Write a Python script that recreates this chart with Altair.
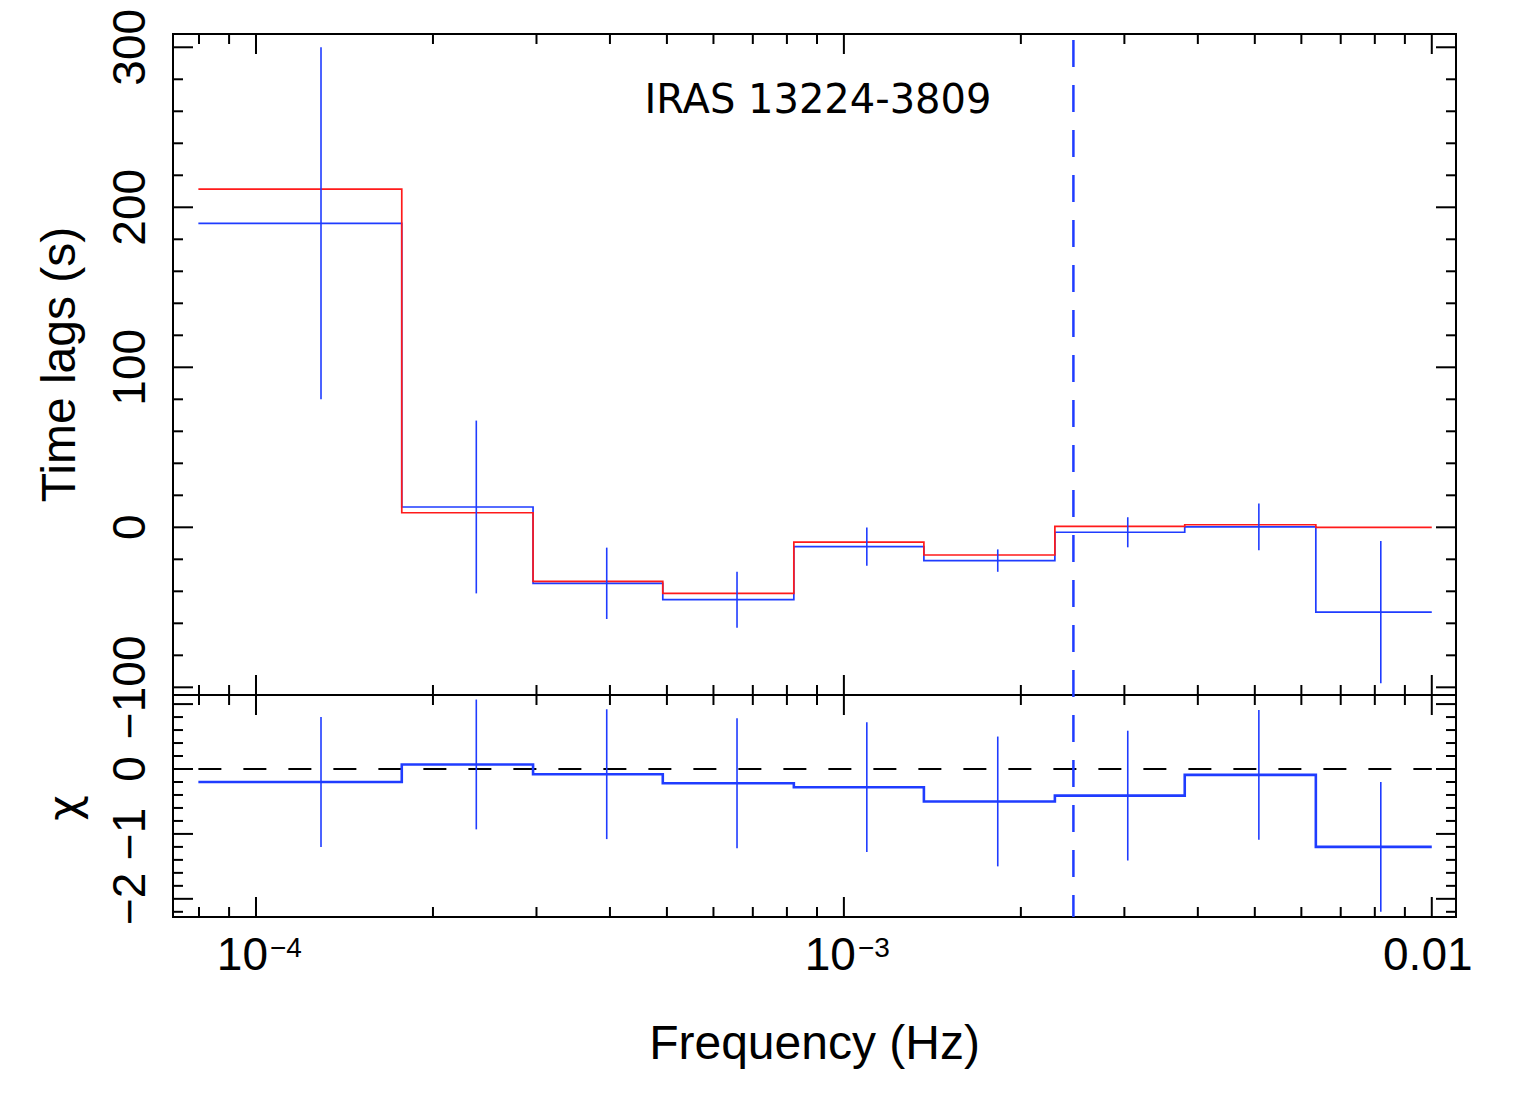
import altair as alt
import pandas as pd

# ---------------- data ----------------
bin_edges = [7.98e-5, 1.77e-4, 2.96e-4, 4.92e-4, 8.22e-4, 1.368e-3, 2.285e-3, 3.80e-3, 6.35e-3, 1.0e-2]
bin_centres = [1.29e-4, 2.37e-4, 3.95e-4, 6.58e-4, 1.094e-3, 1.827e-3, 3.04e-3, 5.08e-3, 8.19e-3]
lag_obs = [190.0, 12.7, -35.0, -45.2, -12.1, -20.8, -3.1, 0.3, -53.0]
lag_err = [110.0, 54.0, 22.3, 17.5, 12.0, 7.0, 9.4, 14.6, 44.5]
lag_model = [211.4, 9.1, -33.8, -41.3, -9.2, -17.3, 0.6, 1.6, 0.0]
chi_res = [-0.20, 0.07, -0.08, -0.22, -0.28, -0.50, -0.41, -0.09, -1.20]
chi_err = [1.0, 1.0, 1.0, 1.0, 1.0, 1.0, 1.0, 1.0, 1.0]
cut_freq = [2.457e-3]

title_text = "IRAS 13224-3809"
x_title = "Frequency (Hz)"
y_title_top = "Time lags (s)"
y_title_bot = "χ"

# tick positions / labels
x_major = [1e-4, 1e-3, 1e-2]
x_minor = [8e-5, 9e-5, 2e-4, 3e-4, 4e-4, 5e-4, 6e-4, 7e-4, 8e-4, 9e-4,
           2e-3, 3e-3, 4e-3, 5e-3, 6e-3, 7e-3, 8e-3, 9e-3]
pow_ticks = [1e-4, 1e-3]
pow_base = ["10", "10"]
pow_exp = ["−4", "−3"]
plain_ticks = [1e-2]
plain_text = ["0.01"]

top_major = [-100, 0, 100, 200, 300]
top_minor = [-80, -60, -40, -20, 20, 40, 60, 80, 120, 140, 160, 180,
             220, 240, 260, 280]
top_labels = ["−100", "0", "100", "200", "300"]
bot_major = [-2, -1, 0, 1]
bot_minor = [-2.2, -1.8, -1.6, -1.4, -1.2, -0.8, -0.6, -0.4, -0.2,
             0.2, 0.4, 0.6, 0.8]
bot_label_vals = [-2, -1, 0]
bot_labels = ["−2", "−1", "0"]

# ---------------- layout / style ----------------
W, H1, H = 1283, 661, 883
BLUE = "#1f3cff"
RED = "#ff1a1a"
FONT = "Liberation Sans"
MAJ, MIN = 20, 10

xscale = alt.Scale(type="log", domain=[7.225e-5, 1.0995e-2], nice=False)
ytop = alt.Scale(domain=[-104.8, 308.3], range=[H1, 0], nice=False, zero=False)
ybot = alt.Scale(domain=[-2.28, 1.14], range=[H, H1], nice=False, zero=False)

X = lambda f: alt.X(f, scale=xscale, axis=None)

# ---------------- tables ----------------
step_df = pd.DataFrame({
    "freq": bin_edges,
    "obs": lag_obs + [lag_obs[-1]],
    "model": lag_model + [lag_model[-1]],
    "chi": chi_res + [chi_res[-1]],
})
pts_df = pd.DataFrame({"freq": bin_centres, "obs": lag_obs, "err": lag_err,
                       "chi": chi_res, "cerr": chi_err})
pts_df["lo"] = pts_df["obs"] - pts_df["err"]
pts_df["hi"] = pts_df["obs"] + pts_df["err"]
pts_df["clo"] = pts_df["chi"] - pts_df["cerr"]
pts_df["chi_hi"] = pts_df["chi"] + pts_df["cerr"]

layers = []

# x ticks on the four horizontal edges
def xticks(vals, y0, length, up):
    d = pd.DataFrame({"f": vals})
    y1 = y0 - length if up else y0 + length
    return alt.Chart(d).mark_rule(color="black", strokeWidth=2).encode(
        x=X("f:Q"), y=alt.value(y0), y2=alt.value(y1))

for y0, up in [(0, False), (H1, True), (H1, False), (H, True)]:
    layers.append(xticks(x_major, y0, MAJ, up))
    layers.append(xticks(x_minor, y0, MIN, up))

# y ticks left and right
def yticks(vals, scale, length):
    d = pd.DataFrame({"v": vals})
    base = alt.Chart(d).mark_rule(color="black", strokeWidth=2)
    left = base.encode(y=alt.Y("v:Q", scale=scale, axis=None),
                       x=alt.value(0), x2=alt.value(length))
    right = base.encode(y=alt.Y("v:Q", scale=scale, axis=None),
                        x=alt.value(W), x2=alt.value(W - length))
    return [left, right]

layers += yticks(top_major, ytop, MAJ)
layers += yticks(top_minor, ytop, MIN)
layers += yticks(bot_major, ybot, MAJ)
layers += yticks(bot_minor, ybot, MIN)

# separator between the panels
sep_df = pd.DataFrame({"s": [0]})
layers.append(alt.Chart(sep_df).mark_rule(color="black", strokeWidth=2).encode(
    x=alt.value(0), x2=alt.value(W), y=alt.value(H1)))

# zero line of residual panel
zero_df = pd.DataFrame({"a": [bin_edges[0]], "b": [bin_edges[-1]], "z": [0.0]})
layers.append(alt.Chart(zero_df).mark_rule(color="black", strokeWidth=2,
                                           strokeDash=[23, 22]).encode(
    x=X("a:Q"), x2="b:Q", y=alt.Y("z:Q", scale=ybot, axis=None)))

# vertical dashed line
cut_df = pd.DataFrame({"f": cut_freq})
layers.append(alt.Chart(cut_df).mark_rule(color=BLUE, strokeWidth=2.5,
                                          strokeDash=[27, 18], strokeDashOffset=39).encode(
    x=X("f:Q"), y=alt.value(0), y2=alt.value(H)))

# step histograms
layers.append(alt.Chart(step_df).mark_line(interpolate="step-after", color=BLUE,
                                           strokeWidth=1.7).encode(
    x=X("freq:Q"), y=alt.Y("obs:Q", scale=ytop, axis=None)))
layers.append(alt.Chart(step_df).mark_line(interpolate="step-after", color=RED,
                                           strokeWidth=1.7).encode(
    x=X("freq:Q"), y=alt.Y("model:Q", scale=ytop, axis=None)))
layers.append(alt.Chart(step_df).mark_line(interpolate="step-after", color=BLUE,
                                           strokeWidth=2.6).encode(
    x=X("freq:Q"), y=alt.Y("chi:Q", scale=ybot, axis=None)))

# error bars
layers.append(alt.Chart(pts_df).mark_rule(color=BLUE, strokeWidth=1.6).encode(
    x=X("freq:Q"), y=alt.Y("lo:Q", scale=ytop, axis=None), y2="hi:Q"))
layers.append(alt.Chart(pts_df).mark_rule(color=BLUE, strokeWidth=1.6).encode(
    x=X("freq:Q"), y=alt.Y("clo:Q", scale=ybot, axis=None), y2="chi_hi:Q"))

# x tick labels
pow_df = pd.DataFrame({"f": pow_ticks, "b": pow_base, "e": pow_exp})
layers.append(alt.Chart(pow_df).mark_text(font=FONT, fontSize=46, align="right",
                                          baseline="alphabetic", dx=12).encode(
    x=X("f:Q"), y=alt.value(H + 53), text="b:N"))
layers.append(alt.Chart(pow_df).mark_text(font=FONT, fontSize=28, align="left",
                                          baseline="alphabetic", dx=14).encode(
    x=X("f:Q"), y=alt.value(H + 40), text="e:N"))
plain_df = pd.DataFrame({"f": plain_ticks, "t": plain_text})
layers.append(alt.Chart(plain_df).mark_text(font=FONT, fontSize=46, align="center",
                                            baseline="alphabetic", dx=-4).encode(
    x=X("f:Q"), y=alt.value(H + 53), text="t:N"))

# y tick labels
tl_df = pd.DataFrame({"v": top_major, "t": top_labels})
layers.append(alt.Chart(tl_df).mark_text(font=FONT, fontSize=46, align="center",
                                         baseline="alphabetic", angle=270).encode(
    y=alt.Y("v:Q", scale=ytop, axis=None), x=alt.value(-28), text="t:N"))
bl_df = pd.DataFrame({"v": bot_label_vals, "t": bot_labels})
layers.append(alt.Chart(bl_df).mark_text(font=FONT, fontSize=46, align="center",
                                         baseline="alphabetic", angle=270).encode(
    y=alt.Y("v:Q", scale=ybot, axis=None), x=alt.value(-28), text="t:N"))

# axis titles and source name
def label(text, x, y, size, angle=0, font=FONT):
    d = pd.DataFrame({"t": [text]})
    kw = dict(font=font, fontSize=size, align="center", baseline="alphabetic")
    if angle:
        kw["angle"] = angle
    return alt.Chart(d).mark_text(**kw).encode(
        x=alt.value(x), y=alt.value(y), text="t:N")

layers.append(label(x_title, W / 2, H + 142, 48))
layers.append(label(y_title_top, -98, H1 / 2, 48, angle=270))
layers.append(label(y_title_bot, -94, H1 + 113, 44, angle=270, font="DejaVu Sans"))
layers.append(label(title_text, 645, 79, 40, font="DejaVu Sans"))

chart = alt.layer(*layers).resolve_scale(y="independent").properties(
    width=W, height=H,
    autosize=alt.AutoSizeParams(type="none"),
    padding={"left": 165, "top": 26, "right": 66, "bottom": 170},
    background="white",
).configure_view(stroke="black", strokeWidth=2)

chart.save("out.html", embed_options={"renderer": "svg", "actions": False})
